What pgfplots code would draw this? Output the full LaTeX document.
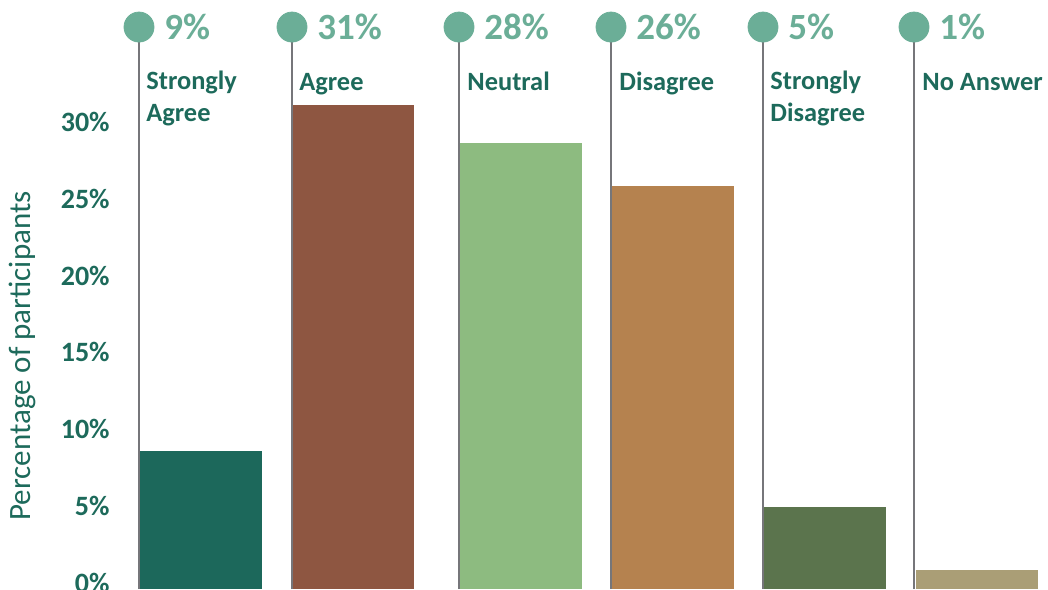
\documentclass[border=0pt]{standalone}
\usepackage{pgfplots}
\pgfplotsset{compat=1.18}
\usepackage{fontspec}
\setmainfont{Carlito}
\definecolor{dkgreen}{HTML}{1D6A5B}
\definecolor{ltgreen}{HTML}{6BAE97}
\definecolor{linegray}{HTML}{76767A}
\definecolor{cSA}{HTML}{1C685B}
\definecolor{cA}{HTML}{8E5641}
\definecolor{cN}{HTML}{8DBB80}
\definecolor{cD}{HTML}{B5824F}
\definecolor{cSD}{HTML}{5B744D}
\definecolor{cNA}{HTML}{AA9E76}
\tikzset{pct/.style={anchor=west, inner sep=0pt, text=ltgreen, font=\bfseries\fontsize{18.5}{20}\selectfont},
  cat/.style={anchor=base west, inner sep=0pt, align=left, text=dkgreen, font=\bfseries\fontsize{13.2}{16}\selectfont},
  vline/.style={linegray, line width=1pt}}
% bars are drawn in true percent; the zero of the chart sits 0.39 units above the bottom edge
\pgfplotsset{barval/.style={fill=#1, draw=none, y filter/.expression={y+0.39}}}
\begin{document}
\begin{tikzpicture}
\begin{axis}[
  scale only axis,
  width=524pt, height=294.5pt,
  xmin=0, xmax=1048,
  ymin=0, ymax=38.32,
  clip=false,
  axis line style={draw=none},
  major tick length=0pt,
  xtick=\empty,
  ytick={0.39,5.39,10.39,15.39,20.39,25.39,30.39},
  yticklabels={0\%,5\%,10\%,15\%,20\%,25\%,30\%},
  yticklabel style={anchor=east, inner sep=0pt, xshift=55pt, font=\bfseries\fontsize{14}{15}\selectfont, text=dkgreen},
  ybar, bar width=61pt, bar shift=0pt,
]
\addplot[barval=cSA] coordinates {(201,8.6)};
\addplot[barval=cA] coordinates {(353,31.1)};
\addplot[barval=cN] coordinates {(521,28.6)};
\addplot[barval=cD] coordinates {(673,25.8)};
\addplot[barval=cSD] coordinates {(825,4.95)};
\addplot[barval=cNA] coordinates {(977,0.85)};
\draw[vline] (axis cs:139,0) -- (axis cs:139,36.56);
\draw[vline] (axis cs:292,0) -- (axis cs:292,36.56);
\draw[vline] (axis cs:459,0) -- (axis cs:459,36.56);
\draw[vline] (axis cs:611,0) -- (axis cs:611,36.56);
\draw[vline] (axis cs:763,0) -- (axis cs:763,36.56);
\draw[vline] (axis cs:914,0) -- (axis cs:914,36.56);
\addplot[ybar=false, only marks, mark=*, mark size=7.5pt, color=ltgreen]
  coordinates {(139,36.56) (292,36.56) (459,36.56) (611,36.56) (763,36.56) (914,36.56)};
\node[pct] at (axis cs:164,36.56) {9\%};
\node[pct] at (axis cs:317,36.56) {31\%};
\node[pct] at (axis cs:484,36.56) {28\%};
\node[pct] at (axis cs:636,36.56) {26\%};
\node[pct] at (axis cs:788,36.56) {5\%};
\node[pct] at (axis cs:939,36.56) {1\%};
\node[cat] at (axis cs:146,30.4) {Strongly\\Agree};
\node[cat] at (axis cs:299,32.46) {Agree};
\node[cat] at (axis cs:467,32.46) {Neutral};
\node[cat] at (axis cs:619,32.46) {Disagree};
\node[cat] at (axis cs:770,30.4) {Strongly\\Disagree};
\node[cat] at (axis cs:922,32.46) {No Answer};
\node[rotate=90, text=dkgreen, font=\fontsize{15.5}{17}\selectfont] at (axis cs:22,15.16) {Percentage of participants};
\end{axis}
\pgfresetboundingbox
\path[use as bounding box] (0,0) rectangle (524pt,294.5pt);
\end{tikzpicture}
\end{document}
